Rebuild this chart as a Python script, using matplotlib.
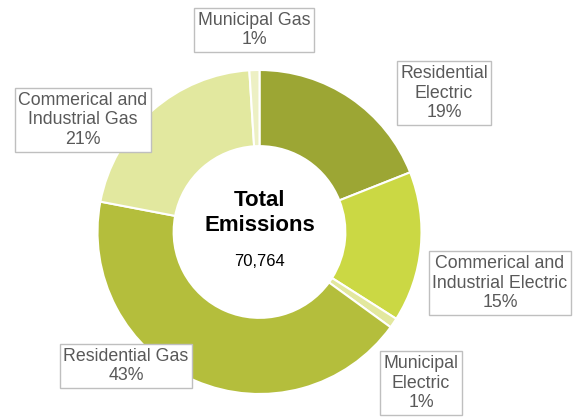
import matplotlib.pyplot as plt

plt.rcParams['font.family'] = ['Liberation Sans', 'DejaVu Sans']

# emissions share by sector (percent), clockwise from 12 o'clock
sectors = ['Residential\nElectric', 'Commerical and\nIndustrial Electric', 'Municipal\nElectric',
           'Residential Gas', 'Commerical and\nIndustrial Gas', 'Municipal Gas']
shares = [19, 15, 1, 43, 21, 1]
colors = ['#9CA634', '#CBD844', '#E3E89E', '#B4BE3C', '#E2E89F', '#EDF0C4']
total_emissions = '70,764'

# label box centres in pixel units (x from left, y from top)
label_x = [444, 500, 421, 126, 83, 254]
label_y = [93, 283, 383, 366, 120, 30]

W, H = 574, 419
fig = plt.figure(figsize=(W / 100, H / 100), dpi=100)
ax = fig.add_axes([0, 0, 1, 1])

cx, cy, r = 259.5, H - 232, 162
ax.pie(shares, colors=colors, startangle=90, counterclock=False,
       center=(cx, cy), radius=r, frame=True,
       wedgeprops=dict(width=r * 0.47, edgecolor='white', linewidth=1.5))
ax.set_xlim(0, W)
ax.set_ylim(0, H)
ax.set_aspect('equal')
ax.axis('off')

for name, pct, lx, ly in zip(sectors, shares, label_x, label_y):
    ax.text(lx, H - ly, f'{name}\n{pct}%', ha='center', va='center',
            multialignment='center', fontsize=12.8, color='#595959', linespacing=1.22,
            bbox=dict(boxstyle='square,pad=0.2', facecolor='white',
                      edgecolor='#BFBFBF', linewidth=1))

ax.text(cx, H - 213, 'Total\nEmissions', ha='center', va='center',
        fontsize=16, fontweight='bold', color='black', linespacing=1.2)
ax.text(cx, H - 262, total_emissions, ha='center', va='center',
        fontsize=12, color='black')

fig.savefig('out.png', dpi=100)
